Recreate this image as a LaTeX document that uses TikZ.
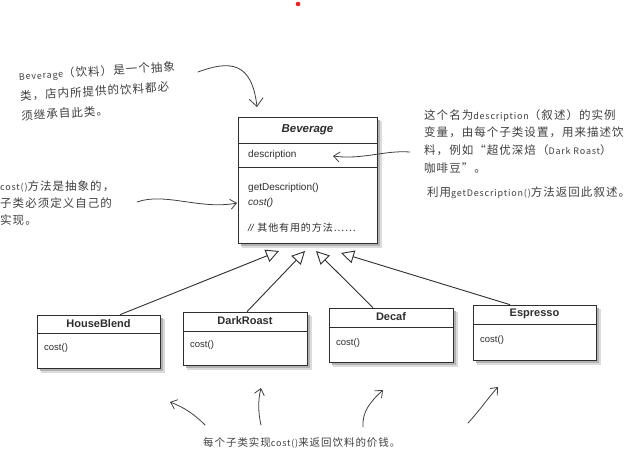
\documentclass[tikz,border=0pt]{standalone}
\usepackage{fontspec}
\setmainfont{Liberation Sans}
\newfontfamily\cjk{Noto Sans CJK SC}
\newfontfamily\hand[LetterSpace=9]{Noto Sans CJK SC}
\usetikzlibrary{arrows.meta}
\definecolor{ink}{HTML}{2E2E2E}
\definecolor{penc}{HTML}{404040}
\definecolor{dotred}{HTML}{E8262A}
\newcommand\lat[1]{{\fontsize{9}{18}\selectfont #1}}
\begin{document}
\begin{tikzpicture}[x=1pt,y=-1pt,
  box/.style={draw=ink, line width=0.7pt, fill=white, inner sep=0pt, rectangle},
  shadowA/.style={fill=black!14},
  shadowB/.style={fill=black!30},
  sep/.style={draw=ink, line width=0.7pt},
  title/.style={font=\fontsize{11}{13}\selectfont\bfseries, text=ink, inner sep=0pt},
  meth/.style={font=\fontsize{10}{12}\selectfont, text=ink, inner sep=0pt, anchor=west},
  smeth/.style={font=\fontsize{9.5}{12}\selectfont, text=ink, inner sep=0pt, anchor=west},
  inh/.style={draw=ink, line width=0.9pt, -{Triangle[open, length=13pt, width=13pt]}},
  note/.style={font=\hand\fontsize{11.5}{18}\selectfont, text=penc, inner sep=0pt, align=left},
  penarrow/.style={draw=penc, line width=0.8pt, line cap=round, -{Straight Barb[length=6pt, width=10pt]}}
]
\useasboundingbox (0,0) rectangle (632,456);
\fill[white] (0,0) rectangle (632,456);

% red dot
\fill[dotred] (298,4) circle (2.3);

% ---------- Beverage ----------
\node[box, minimum width=139pt, minimum height=126pt] (bev) at (307.5,180) {};
\fill[shadowA] ([shift={(4.5,4.5)}]bev.north west) rectangle ([shift={(4.5,4.5)}]bev.south east);
\fill[shadowB] ([shift={(3,3)}]bev.north west) rectangle ([shift={(3,3)}]bev.south east);
\node[box, minimum width=139pt, minimum height=126pt] (bevbox) at (307.5,180) {};
\draw[sep] (bevbox.west |- 0,143) -- (bevbox.east |- 0,143);
\draw[sep] (bevbox.west |- 0,167) -- (bevbox.east |- 0,167);
\node[title, font=\fontsize{11.5}{13}\selectfont\bfseries\itshape] (bevt) at (307.5,130) {Beverage};
\node[meth] (bevd) at (248,155) {description};
\node[meth] (bevg) at (248,188) {getDescription()};
\node[meth] (bevc) at (248,203) {\textit{cost()}};
\node[meth] (bevo) at (248,228) {\textit{//} {\hand\fontsize{10}{12}\selectfont 其他有用的方法⋯⋯}};

% ---------- HouseBlend ----------
\node[box, minimum width=123pt, minimum height=53pt] (hb0) at (98.5,341.5) {};
\fill[shadowA] ([shift={(4.5,4.5)}]hb0.north west) rectangle ([shift={(4.5,4.5)}]hb0.south east);
\fill[shadowB] ([shift={(3,3)}]hb0.north west) rectangle ([shift={(3,3)}]hb0.south east);
\node[box, minimum width=123pt, minimum height=53pt] (hb) at (98.5,341.5) {};
\draw[sep] (hb.west |- 0,333) -- (hb.east |- 0,333);
\node[title] (hbt) at (98.5,324) {HouseBlend};
\node[smeth] (hbc) at (44,348) {cost()};

% ---------- DarkRoast ----------
\node[box, minimum width=124pt, minimum height=53pt] (dr0) at (245,338.5) {};
\fill[shadowA] ([shift={(4.5,4.5)}]dr0.north west) rectangle ([shift={(4.5,4.5)}]dr0.south east);
\fill[shadowB] ([shift={(3,3)}]dr0.north west) rectangle ([shift={(3,3)}]dr0.south east);
\node[box, minimum width=124pt, minimum height=53pt] (dr) at (245,338.5) {};
\draw[sep] (dr.west |- 0,331) -- (dr.east |- 0,331);
\node[title] (drt) at (245,321) {DarkRoast};
\node[smeth] (drc) at (190,345) {cost()};

% ---------- Decaf ----------
\node[box, minimum width=124pt, minimum height=54pt] (dc0) at (391,335) {};
\fill[shadowA] ([shift={(4.5,4.5)}]dc0.north west) rectangle ([shift={(4.5,4.5)}]dc0.south east);
\fill[shadowB] ([shift={(3,3)}]dc0.north west) rectangle ([shift={(3,3)}]dc0.south east);
\node[box, minimum width=124pt, minimum height=54pt] (dc) at (391,335) {};
\draw[sep] (dc.west |- 0,327) -- (dc.east |- 0,327);
\node[title] (dct) at (391,317) {Decaf};
\node[smeth] (dcc) at (336,343) {cost()};

% ---------- Espresso ----------
\node[box, minimum width=123pt, minimum height=55pt] (es0) at (534.5,332.5) {};
\fill[shadowA] ([shift={(4.5,4.5)}]es0.north west) rectangle ([shift={(4.5,4.5)}]es0.south east);
\fill[shadowB] ([shift={(3,3)}]es0.north west) rectangle ([shift={(3,3)}]es0.south east);
\node[box, minimum width=123pt, minimum height=55pt] (es) at (534.5,332.5) {};
\draw[sep] (es.west |- 0,324) -- (es.east |- 0,324);
\node[title] (est) at (534.5,314) {Espresso};
\node[smeth] (esc) at (480,340) {cost()};

% ---------- inheritance ----------
\coordinate (tip1) at (279,251);
\coordinate (tip2) at (305,251);
\coordinate (tip3) at (316,251);
\coordinate (tip4) at (341,253);
\draw[inh] (120,0 |- hb.north) -- (tip1);
\draw[inh] (247,0 |- dr.north) -- (tip2);
\draw[inh] (373,0 |- dc.north) -- (tip3);
\draw[inh] (510,0 |- es.north) -- (tip4);

% ---------- annotations ----------
\node[note, font=\hand\fontsize{11.5}{20}\selectfont, rotate=3.5] (n1) at (98,91)
  {\lat{Beverage}（饮料）是一个抽象\\类，店内所提供的饮料都必\\须继承自此类。};
\coordinate (a1s) at (198,72);
\coordinate (a1e) at (257,107);
\draw[penarrow, -{Straight Barb[length=8pt, width=14pt]}] (a1s) .. controls (230,60) and (252,62) .. (a1e);

\node[note, font=\hand\fontsize{11.5}{17.7}\selectfont, anchor=north west] (n2) at (424,109)
  {这个名为\lat{description}（叙述）的实例\\变量，由每个子类设置，用来描述饮\\料，例如“超优深焙（\lat{Dark Roast}）\\咖啡豆”。};
\node[note, anchor=west] (n2b) at (427,193) {利用\lat{getDescription()}方法返回此叙述。};
\coordinate (a2s) at (410,152);
\coordinate (a2e) at (333,156);
\draw[penarrow] (a2s) .. controls (385,150) and (362,160) .. (a2e);

\node[note, font=\hand\fontsize{11.5}{17}\selectfont, anchor=north west] (n3) at (0,181)
  {\lat{cost()}方法是抽象的，\\子类必须定义自己的\\实现。};
\coordinate (a3s) at (137,202);
\coordinate (a3e) at (237,203);
\draw[penarrow] (a3s) .. controls (165,192) and (200,210) .. (a3e);

\node[note, font=\hand\fontsize{10.5}{14}\selectfont, anchor=west] (n4) at (203,443)
  {每个子类实现\lat{cost()}来返回饮料的价钱。};
\coordinate (b1s) at (205,425);
\coordinate (b1e) at (170,402);
\draw[penarrow] (b1s) .. controls (193,413) and (183,407) .. (b1e);
\coordinate (b2s) at (261,425);
\coordinate (b2e) at (261,388);
\draw[penarrow] (b2s) .. controls (258,412) and (258,400) .. (b2e);
\coordinate (b3s) at (363,427);
\coordinate (b3e) at (383,390);
\draw[penarrow] (b3s) .. controls (362,412) and (370,402) .. (b3e);
\coordinate (b4s) at (468,423);
\coordinate (b4e) at (498,387);
\draw[penarrow] (b4s) .. controls (480,410) and (488,398) .. (b4e);
\end{tikzpicture}
\end{document}
